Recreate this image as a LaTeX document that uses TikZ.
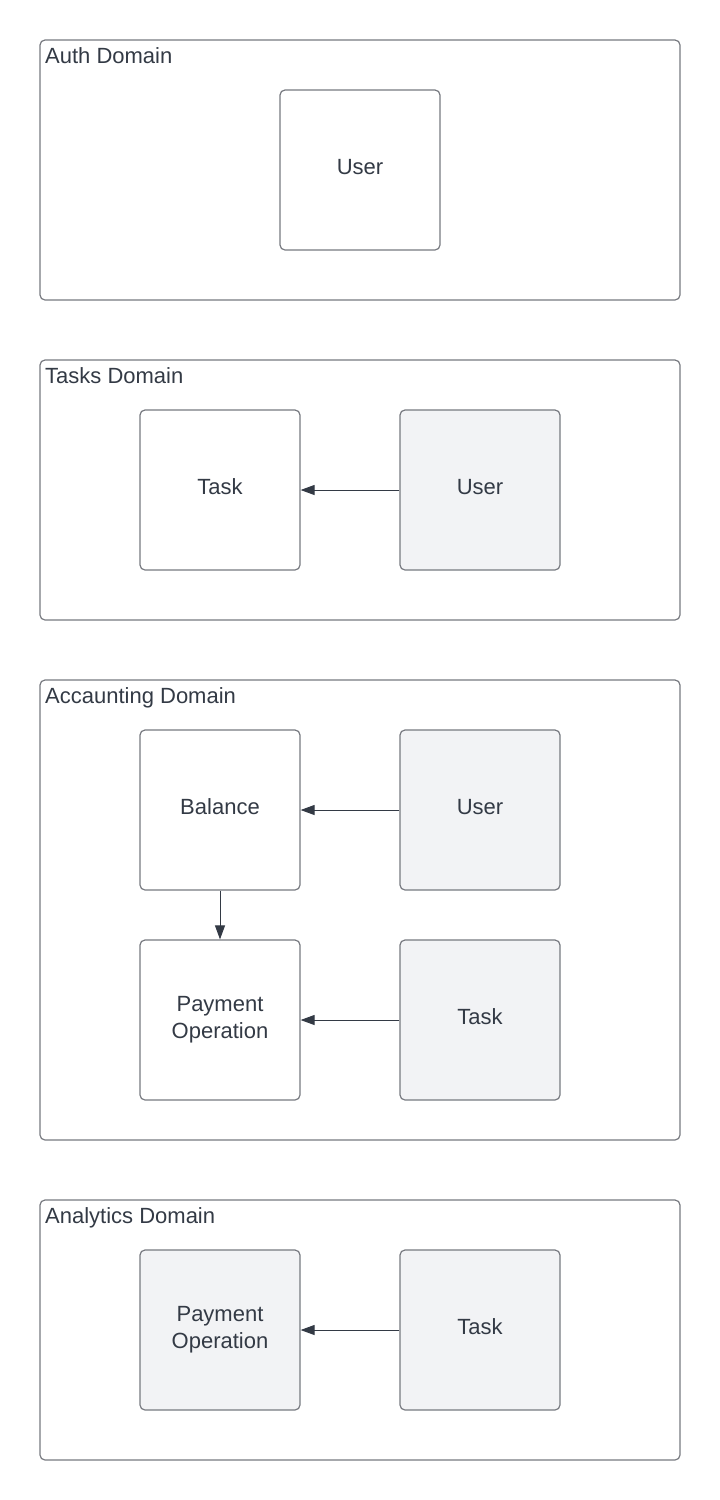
\documentclass[tikz,border=0pt]{standalone}
\usepackage{fontspec}
\setmainfont{Liberation Sans}
\usetikzlibrary{arrows.meta}
\definecolor{bordc}{HTML}{777A80}
\definecolor{txtc}{HTML}{333A45}
\definecolor{fillc}{HTML}{F2F3F5}
\tikzset{
  dombox/.style={draw=bordc, line width=1.2pt, rounded corners=5pt},
  dtitle/.style={anchor=base west, text=txtc, font=\fontsize{22}{26}\selectfont, inner sep=0pt},
  ent/.style={draw=bordc, line width=1.2pt, rounded corners=5pt, minimum width=160pt, minimum height=160pt, inner sep=0pt, text=txtc, font=\fontsize{22}{27}\selectfont, align=center, fill=white, text depth=6pt},
  ext/.style={ent, fill=fillc},
  conn/.style={draw=txtc, line width=1pt, -{Triangle[length=14pt,width=10pt]}}
}
\begin{document}
\begin{tikzpicture}[x=1pt,y=-1pt]
\useasboundingbox (0,0) rectangle (720,1500);
% domains
\draw[dombox] (40,40) rectangle (680,300);
\draw[dombox] (40,360) rectangle (680,620);
\draw[dombox] (40,680) rectangle (680,1140);
\draw[dombox] (40,1200) rectangle (680,1460);
\node[dtitle] (t1) at (45,63) {Auth Domain};
\node[dtitle] (t2) at (45,383) {Tasks Domain};
\node[dtitle] (t3) at (45,703) {Accaunting Domain};
\node[dtitle] (t4) at (45,1223) {Analytics Domain};
% auth
\node[ent] (authuser) at (360,170) {User};
% tasks
\node[ent] (tasktask) at (220,490) {Task};
\node[ext] (taskuser) at (480,490) {User};
\draw[conn] (taskuser) -- (tasktask);
% accounting
\node[ent] (balance) at (220,810) {Balance};
\node[ext] (accuser) at (480,810) {User};
\node[ent] (payop) at (220,1020) {Payment\\Operation};
\node[ext] (acctask) at (480,1020) {Task};
\draw[conn] (accuser) -- (balance);
\draw[conn] (balance) -- (payop);
\draw[conn] (acctask) -- (payop);
% analytics
\node[ext] (anpay) at (220,1330) {Payment\\Operation};
\node[ext] (antask) at (480,1330) {Task};
\draw[conn] (antask) -- (anpay);
\end{tikzpicture}
\end{document}
